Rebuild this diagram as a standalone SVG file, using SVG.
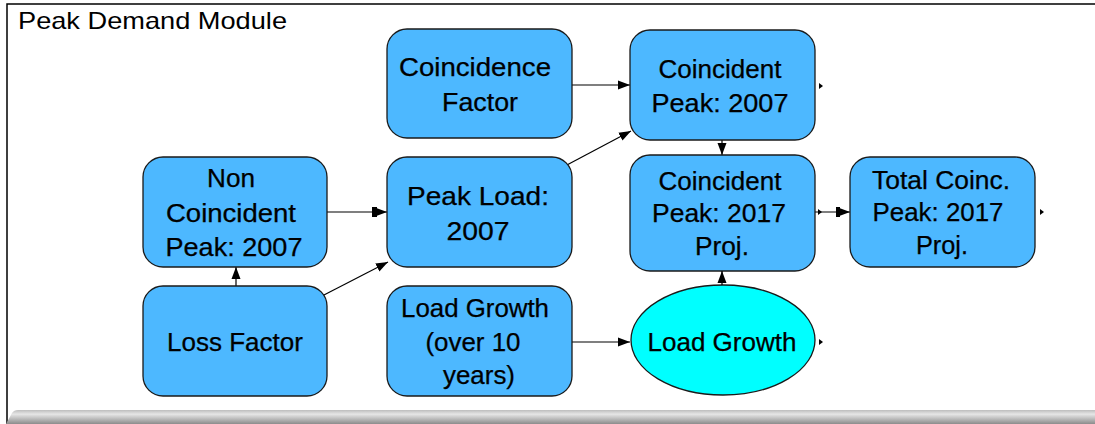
<svg xmlns="http://www.w3.org/2000/svg" width="1095" height="424" viewBox="0 0 1095 424">
<defs>
<style>
.n{fill:#4db8ff;stroke:#1a1a1a;stroke-width:1.3}
.e{fill:#00ffff;stroke:#1a1a1a;stroke-width:1.3}
.t{font-family:"Liberation Sans",Arial,sans-serif;font-size:25px;fill:#000;stroke:#000;stroke-width:0.25;text-anchor:middle}
.c{stroke:#000;stroke-width:1.2;fill:none}
.h{fill:#000}
</style>
<marker id="a" viewBox="0 0 12 10" refX="12" refY="5" markerWidth="12" markerHeight="10" markerUnits="userSpaceOnUse" orient="auto"><path d="M0,0.5 L12,5 L0,9.5 Z" fill="#000"/></marker>
<linearGradient id="g" x1="0" y1="0" x2="0" y2="1"><stop offset="0" stop-color="#bdbdbd"/><stop offset="0.3" stop-color="#e6e6e6"/><stop offset="1" stop-color="#8c8c8c"/></linearGradient>
</defs>
<rect width="1095" height="424" fill="#fff"/>
<path d="M7,424 V4 H1095" fill="none" stroke="#000" stroke-width="1.5"/>
<path d="M6,424 L12,413 Q14,410 18,410 H1095 V424 Z" fill="url(#g)"/>
<text x="18" y="29" textLength="269" lengthAdjust="spacingAndGlyphs" style="font-family:'Liberation Sans',Arial,sans-serif;font-size:24px;fill:#000">Peak Demand Module</text>

<g id="connectors">
<line class="c" x1="572" y1="85" x2="630" y2="85" marker-end="url(#a)"/>
<line class="c" x1="565" y1="166" x2="631" y2="131" marker-end="url(#a)"/>
<line class="c" x1="722" y1="140" x2="722" y2="155" marker-end="url(#a)"/>
<line class="c" x1="327" y1="212" x2="387" y2="212" marker-end="url(#a)"/>
<path class="h" d="M372,207 L377,207 L377,217 L372,217 Z"/>
<line class="c" x1="236" y1="286" x2="236" y2="267" marker-end="url(#a)"/>
<line class="c" x1="322" y1="296" x2="388" y2="262" marker-end="url(#a)"/>
<line class="c" x1="572" y1="342" x2="630" y2="342" marker-end="url(#a)"/>
<line class="c" x1="815" y1="212" x2="850" y2="212" marker-end="url(#a)"/>
<path class="h" d="M836,207 L840,207 L840,217 L836,217 Z"/>
<path class="h" d="M818,209 L822,212 L818,215 Z"/>
<path class="h" d="M819,83 L823,86 L819,89 Z"/>
<path class="h" d="M1040,209 L1044,212 L1040,215 Z"/>
<path class="h" d="M819,339 L823,342 L819,345 Z"/>
</g>

<g id="coincidence-factor">
<rect class="n" x="387" y="29" width="185" height="109" rx="20"/>
<text class="t" x="475" y="76" textLength="152" lengthAdjust="spacingAndGlyphs">Coincidence</text>
<text class="t" x="480" y="111" textLength="76" lengthAdjust="spacingAndGlyphs">Factor</text>
</g>
<g id="coincident-peak-2007">
<rect class="n" x="630" y="30" width="185" height="110" rx="20"/>
<text class="t" x="720" y="78" textLength="123" lengthAdjust="spacingAndGlyphs">Coincident</text>
<text class="t" x="720" y="112" textLength="137" lengthAdjust="spacingAndGlyphs">Peak: 2007</text>
</g>
<g id="non-coincident-peak-2007">
<rect class="n" x="143" y="157" width="184" height="110" rx="20"/>
<text class="t" x="231" y="187" textLength="48" lengthAdjust="spacingAndGlyphs">Non</text>
<text class="t" x="231" y="222" textLength="130" lengthAdjust="spacingAndGlyphs">Coincident</text>
<text class="t" x="234" y="256" textLength="137" lengthAdjust="spacingAndGlyphs">Peak: 2007</text>
</g>
<g id="peak-load-2007">
<rect class="n" x="387" y="157" width="185" height="110" rx="20"/>
<text class="t" x="478" y="205" textLength="142" lengthAdjust="spacingAndGlyphs">Peak Load:</text>
<text class="t" x="478" y="240" textLength="63" lengthAdjust="spacingAndGlyphs">2007</text>
</g>
<g id="coincident-peak-2017">
<rect class="n" x="630" y="155" width="185" height="116" rx="20"/>
<text class="t" x="720" y="190" textLength="123" lengthAdjust="spacingAndGlyphs">Coincident</text>
<text class="t" x="719" y="222" textLength="134" lengthAdjust="spacingAndGlyphs">Peak: 2017</text>
<text class="t" x="722" y="255" textLength="54" lengthAdjust="spacingAndGlyphs">Proj.</text>
</g>
<g id="total-coinc-peak-2017">
<rect class="n" x="850" y="157" width="185" height="110" rx="20"/>
<text class="t" x="941" y="189" textLength="138" lengthAdjust="spacingAndGlyphs">Total Coinc.</text>
<text class="t" x="938" y="221" textLength="131" lengthAdjust="spacingAndGlyphs">Peak: 2017</text>
<text class="t" x="942" y="254" textLength="52" lengthAdjust="spacingAndGlyphs">Proj.</text>
</g>
<g id="loss-factor">
<rect class="n" x="143" y="286" width="184" height="110" rx="20"/>
<text class="t" x="235" y="351" textLength="136" lengthAdjust="spacingAndGlyphs">Loss Factor</text>
</g>
<g id="load-growth-over-10-years">
<rect class="n" x="387" y="286" width="185" height="110" rx="20"/>
<text class="t" x="475" y="317" textLength="148" lengthAdjust="spacingAndGlyphs">Load Growth</text>
<text class="t" x="473" y="351" textLength="95" lengthAdjust="spacingAndGlyphs">(over 10</text>
<text class="t" x="479" y="384" textLength="72" lengthAdjust="spacingAndGlyphs">years)</text>
</g>
<g id="load-growth">
<ellipse class="e" cx="723" cy="340" rx="92" ry="55"/>
<text class="t" x="722" y="351" textLength="149" lengthAdjust="spacingAndGlyphs">Load Growth</text>
</g>
<g id="connectors-top">
<line class="c" x1="722" y1="285" x2="722" y2="271" marker-end="url(#a)"/>
</g>
</svg>
